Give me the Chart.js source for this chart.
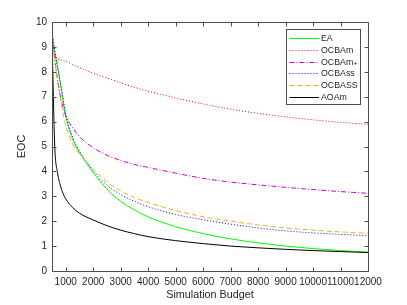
<!DOCTYPE html>
<html>
<head>
<meta charset="utf-8">
<script src="https://cdn.jsdelivr.net/npm/chart.js@4"></script>
<style>
html,body{margin:0;padding:0;background:#fff;}
#wrap{width:407px;height:305px;}
</style>
</head>
<body>
<div id="wrap"><canvas id="c" width="407" height="305"></canvas></div>
<script>
const budget = [500, 550, 600, 700, 800, 900, 1000, 1250, 1500, 1750, 2000, 2500, 3000, 3500, 4000, 5000, 6000, 7000, 8000, 9000, 10000, 11000, 12000];
const EA      = [9.55, 9.2, 8.8, 8.2, 7.55, 6.85, 6.2, 5.3, 4.75, 4.33, 3.95, 3.28, 2.8, 2.45, 2.17, 1.78, 1.5, 1.29, 1.13, 1.0, 0.9, 0.82, 0.76];
const OCBAm   = [9.55, 9.0, 8.7, 8.53, 8.48, 8.45, 8.42, 8.29, 8.17, 8.05, 7.94, 7.75, 7.56, 7.38, 7.22, 6.95, 6.71, 6.5, 6.33, 6.19, 6.07, 5.97, 5.89];
const OCBAmPlus = [9.55, 9.0, 8.5, 7.7, 7.05, 6.6, 6.25, 5.75, 5.4, 5.15, 4.95, 4.65, 4.44, 4.28, 4.16, 3.93, 3.72, 3.57, 3.46, 3.36, 3.27, 3.19, 3.12];
const OCBAss  = [9.55, 9.2, 8.85, 8.25, 7.6, 6.95, 6.3, 5.38, 4.82, 4.4, 4.02, 3.45, 3.07, 2.8, 2.58, 2.27, 2.06, 1.88, 1.73, 1.61, 1.53, 1.47, 1.42];
const OCBASS  = [9.55, 9.0, 8.5, 7.65, 6.95, 6.35, 5.85, 5.1, 4.7, 4.4, 4.1, 3.58, 3.22, 2.95, 2.75, 2.43, 2.18, 2.0, 1.85, 1.73, 1.64, 1.57, 1.51];
const AOAm    = [9.55, 7.0, 5.0, 3.95, 3.45, 3.12, 2.9, 2.55, 2.32, 2.17, 2.05, 1.82, 1.64, 1.5, 1.38, 1.22, 1.1, 1.0, 0.93, 0.87, 0.82, 0.78, 0.74];
const seriesNames = ['EA', 'OCBAm', 'OCBAm\u208A', 'OCBAss', 'OCBASS', 'AOAm'];
const xTicks = [1000, 2000, 3000, 4000, 5000, 6000, 7000, 8000, 9000, 10000, 11000, 12000];
const yTicks = [0, 1, 2, 3, 4, 5, 6, 7, 8, 9, 10];

const FONT = "'Liberation Sans', Arial, 'DejaVu Sans', sans-serif";
const TXT = '#262626';
const AX = '#4d4d4d';

const allSeries = [EA, OCBAm, OCBAmPlus, OCBAss, OCBASS, AOAm];
const styles = [
  {c:'#00ff00', d:[]},
  {c:'#ff0000', d:[1,2]},
  {c:'#cc00cc', d:[5,2,1,2]},
  {c:'#0000ff', d:[1,2]},
  {c:'#edb120', d:[5,3]},
  {c:'#000000', d:[]}
];

const datasets = allSeries.map((s, i) => ({
  label: seriesNames[i],
  data: budget.map((x, k) => ({x: x, y: s[k]})),
  borderColor: styles[i].c,
  backgroundColor: styles[i].c,
  borderDash: styles[i].d,
  borderWidth: 1,
  pointRadius: 0,
  fill: false,
  cubicInterpolationMode: 'monotone',
  order: allSeries.length - i
}));

const framePlugin = {
  id: 'frame',
  afterDatasetsDraw(chart) {
    const {ctx, chartArea: a, scales} = chart;
    ctx.save();
    ctx.strokeStyle = AX;
    ctx.lineWidth = 1;
    ctx.setLineDash([]);
    ctx.beginPath();
    const L = Math.round(a.left) + 0.5, R = Math.round(a.right) + 0.5;
    const T = Math.round(a.top) + 0.5, B = Math.round(a.bottom) + 0.5;
    ctx.rect(L, T, R - L, B - T);
    xTicks.forEach(v => {
      const px = Math.round(scales.x.getPixelForValue(v)) + 0.5;
      ctx.moveTo(px, B); ctx.lineTo(px, B - 4);
      ctx.moveTo(px, T); ctx.lineTo(px, T + 4);
    });
    yTicks.forEach(v => {
      const py = Math.round(scales.y.getPixelForValue(v)) + 0.5;
      ctx.moveTo(L, py); ctx.lineTo(L + 4, py);
      ctx.moveTo(R, py); ctx.lineTo(R - 4, py);
    });
    ctx.stroke();

    // legend
    const bx = 286.5, by = 29.5, bw = 74, bh = 75;
    ctx.fillStyle = '#fff';
    ctx.fillRect(bx, by, bw, bh);
    ctx.strokeStyle = AX;
    ctx.strokeRect(bx, by, bw, bh);
    ctx.font = '8.8px ' + FONT;
    ctx.textBaseline = 'middle';
    ctx.textAlign = 'left';
    chart.data.datasets.forEach((ds, i) => {
      const y = Math.round(38.3 + i * 11.7) + 0.5;
      ctx.strokeStyle = ds.borderColor;
      ctx.setLineDash(ds.borderDash || []);
      ctx.beginPath();
      ctx.moveTo(289.5, y); ctx.lineTo(319, y);
      ctx.stroke();
      ctx.setLineDash([]);
      ctx.fillStyle = TXT;
      ctx.fillText(ds.label, 321, y);
    });
    ctx.restore();
  }
};

new Chart(document.getElementById('c'), {
  type: 'line',
  data: { datasets },
  options: {
    responsive: false,
    animation: false,
    devicePixelRatio: 1,
    layout: { padding: { left: 0, right: 39, top: 22, bottom: 0 } },
    plugins: { legend: { display: false }, tooltip: { enabled: false } },
    scales: {
      x: {
        type: 'linear',
        min: 500, max: 12000,
        grid: { display: false, drawTicks: false, tickLength: 0 },
        border: { display: false },
        afterBuildTicks: s => { s.ticks = xTicks.map(v => ({value: v})); },
        afterFit: s => { s.height = 34; },
        ticks: {
          autoSkip: false, maxRotation: 0, minRotation: 0,
          padding: 5,
          color: TXT,
          font: { family: FONT, size: 10 },
          callback: v => String(v)
        },
        title: {
          display: true, text: 'Simulation Budget', color: TXT,
          font: { family: FONT, size: 10.8 },
          padding: { top: 0, bottom: 3 }
        }
      },
      y: {
        min: 0, max: 10,
        grid: { display: false, drawTicks: false, tickLength: 0 },
        border: { display: false },
        afterBuildTicks: s => { s.ticks = yTicks.map(v => ({value: v})); },
        afterFit: s => { s.width = 52; },
        ticks: {
          padding: 5,
          color: TXT,
          font: { family: FONT, size: 10 },
          callback: v => String(v)
        },
        title: {
          display: true, text: 'EOC', color: TXT,
          font: { family: FONT, size: 10.8 },
          padding: { top: 16, bottom: 0 }
        }
      }
    }
  },
  plugins: [framePlugin]
});
</script>
</body>
</html>
